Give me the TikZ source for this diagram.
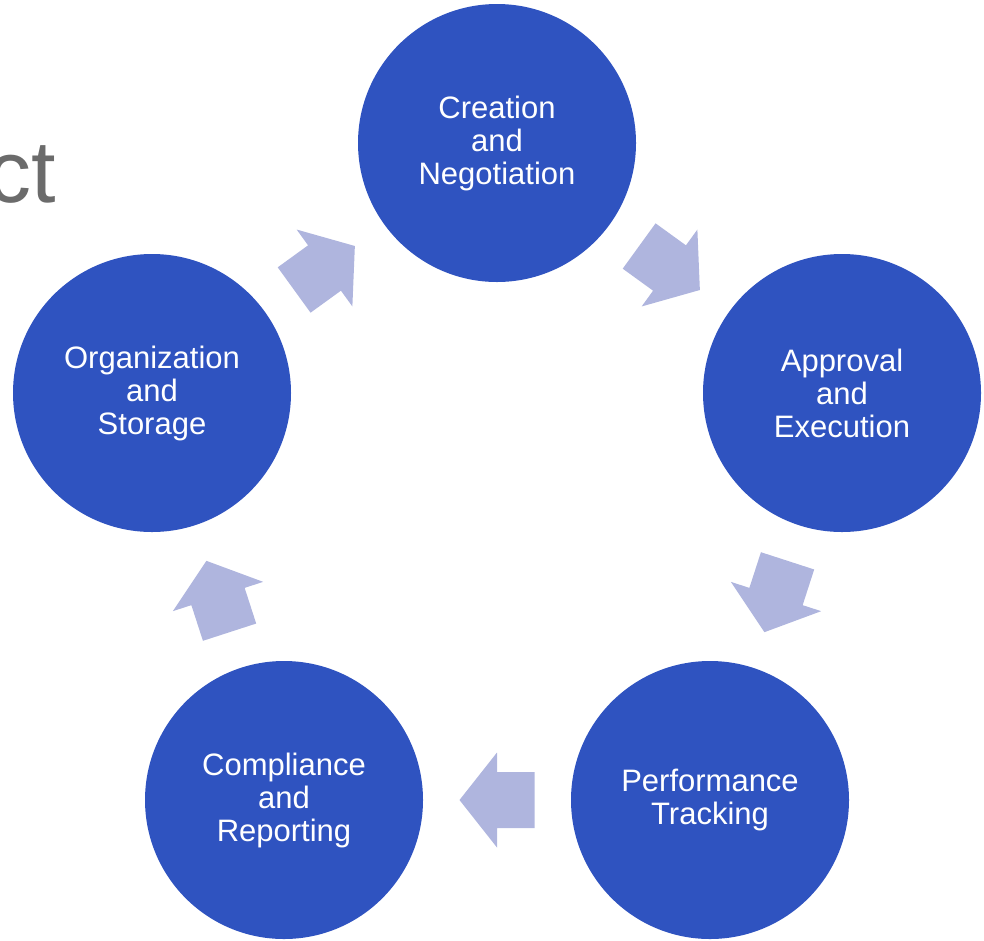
\documentclass[tikz,border=0pt]{standalone}
\usepackage{fontspec}
\setmainfont{Liberation Sans}
\usetikzlibrary{calc}
\definecolor{circblue}{RGB}{47,83,192}
\definecolor{arrowblue}{RGB}{175,181,222}
\definecolor{titlegray}{RGB}{107,107,107}
\tikzset{
  stage/.style={circle, fill=circblue, minimum size=278pt, inner sep=0pt, text=white,
    align=center, font=\fontsize{31}{33}\selectfont},
  blockarrow/.style={fill=arrowblue, draw=none}
}
\newcommand{\cyclearrow}[2]{%
  \coordinate (M) at ($(#1)!0.5!(#2)$);
  \coordinate (T) at ($(M)!-37.5pt!(#2)$);
  \fill[blockarrow] ($(T)!28pt!90:(#2)$) -- ($(M)!28pt!90:(M2)$) -- ($(M)!47.5pt!90:(M2)$)
    -- ($(M)!37.5pt!(#2)$) -- ($(M)!47.5pt!-90:(M2)$) -- ($(M)!28pt!-90:(M2)$)
    -- ($(T)!28pt!-90:(#2)$) -- cycle;}
\begin{document}
\begin{tikzpicture}[x=1pt,y=-1pt]
\useasboundingbox (0,0) rectangle (984,940);
\node[anchor=base east, inner sep=0pt, text=titlegray, font=\fontsize{88}{90}\selectfont] (title) at (56,202) {ct};
\node[stage] (A) at (497,143) {Creation\\and\\Negotiation};
\node[stage] (B) at (842,393) {Approval\\and\\Execution};
\node[stage] (C) at (710,800) {Performance\\Tracking};
\node[stage] (D) at (284,800) {Compliance\\and\\Reporting};
\node[stage] (E) at (152,393) {Organization\\and\\Storage};
\foreach \a/\b in {A/B,B/C,C/D,D/E,E/A}{
  \coordinate (M2) at (\b);
  \cyclearrow{\a.center}{\b.center}
}
\end{tikzpicture}
\end{document}
